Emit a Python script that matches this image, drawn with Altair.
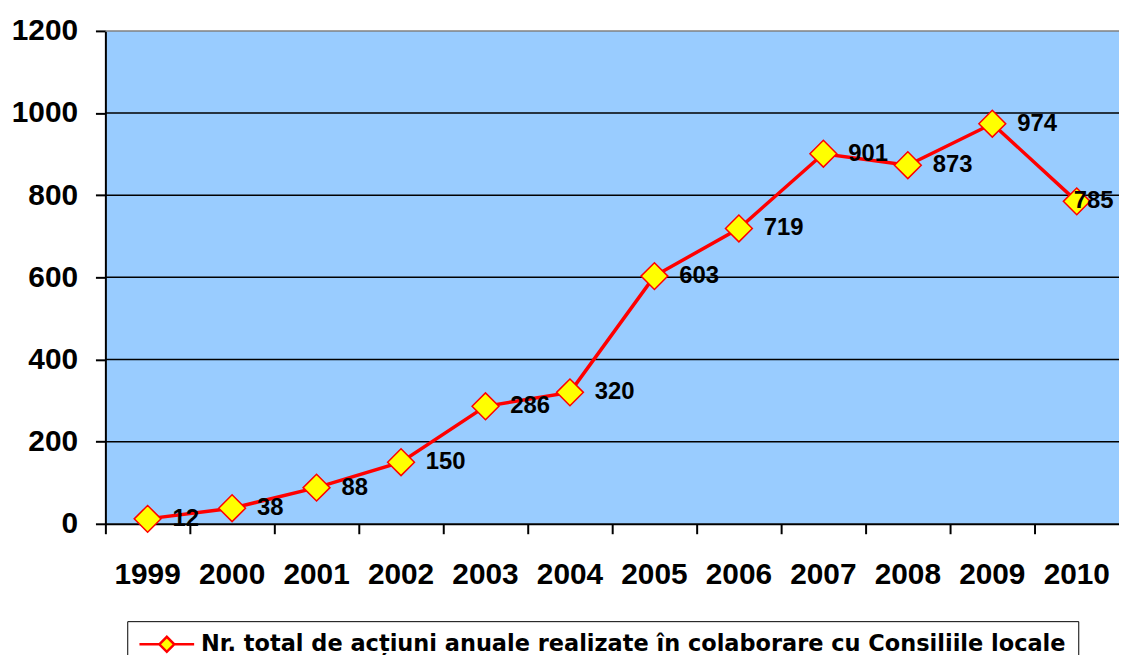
import altair as alt
import pandas as pd

years = ["1999", "2000", "2001", "2002", "2003", "2004", "2005", "2006", "2007", "2008", "2009", "2010"]
values = [12, 38, 88, 150, 286, 320, 603, 719, 901, 873, 974, 785]
y_ticks = [0, 200, 400, 600, 800, 1000, 1200]
grid_values = [200, 400, 600, 800, 1000, 1200]
grid_colors = ["black", "black", "black", "black", "black", "#808080"]
series_name = "Nr. total de acțiuni anuale realizate în colaborare cu Consiliile locale"

df = pd.DataFrame({"year": years, "value": values, "series": [series_name] * len(years)})
grid_df = pd.DataFrame({"v": grid_values, "c": grid_colors})

FONT = "Liberation Sans"

x_scale = alt.Scale(type="band", paddingInner=0, paddingOuter=0, domain=years)
x_axis = alt.Axis(
    title=None, labelAngle=0, bandPosition=0, tickSize=10, tickColor="black", tickWidth=2,
    domainColor="black", domainWidth=2, labelFont=FONT, labelFontSize=30, labelFontWeight="bold",
    labelColor="black", labelPadding=26, grid=False,
)
y_scale = alt.Scale(domain=[0, 1200], nice=False, zero=True)
y_axis = alt.Axis(
    title=None, values=y_ticks, format="d", tickSize=10, tickColor="black", tickWidth=2,
    domainColor="black", domainWidth=2, labelFont=FONT, labelFontSize=30, labelFontWeight="bold",
    labelColor="black", labelPadding=18, grid=False,
)

X = alt.X("year:O", scale=x_scale, axis=x_axis, bandPosition=0.5)
Y = alt.Y("value:Q", scale=y_scale, axis=y_axis)

grid = alt.Chart(grid_df).mark_rule(strokeWidth=1.5).encode(
    y=alt.Y("v:Q", scale=y_scale, axis=y_axis),
    color=alt.Color("c:N", scale=None),
)

legend_path = "M-3.44,0L-0.94,0M0.94,0L3.44,0M-0.94,0L0,-0.94L0.94,0L0,0.94Z"

line = alt.Chart(df).mark_line(strokeWidth=3.5).encode(
    x=X, y=Y,
    stroke=alt.Stroke(
        "series:N",
        scale=alt.Scale(range=["#FF0000"]),
        legend=alt.Legend(
            title=None, orient="none", legendX=22, legendY=594, direction="vertical",
            symbolType=legend_path, symbolSize=256, symbolFillColor="#FFFF00",
            symbolStrokeColor="#FF0000", symbolStrokeWidth=2.5, symbolOffset=16.5,
            labelOffset=23, labelFont="DejaVu Sans", labelFontSize=22.6, labelFontWeight="bold",
            labelColor="black", labelLimit=2000, padding=12, strokeColor="black", fillColor="white",
        ),
    ),
)

points = alt.Chart(df).mark_point(
    shape="diamond", size=729, filled=True, fill="#FFFF00", stroke="#FF0000", strokeWidth=1.5, opacity=1
).encode(x=X, y=Y)

labels = alt.Chart(df).transform_filter(alt.datum.year != "2010").mark_text(
    align="left", baseline="middle", dx=25, font=FONT, fontSize=24, fontWeight="bold", color="black"
).encode(x=X, y=Y, text="value:Q")

label_last = alt.Chart(df).transform_filter(alt.datum.year == "2010").mark_text(
    align="left", baseline="middle", dx=-3, font=FONT, fontSize=24, fontWeight="bold", color="black"
).encode(x=X, y=Y, text="value:Q")

chart = alt.layer(grid, line, points, labels, label_last).properties(
    width=1020, height=496,
    padding={"left": 98, "top": 21, "right": 0, "bottom": 130},
    autosize=alt.AutoSizeParams(type="none"),
    background="white",
).configure_view(stroke=None, fill="#99CCFF")

chart.save("out.html", embed_options={"renderer": "svg", "actions": False})
